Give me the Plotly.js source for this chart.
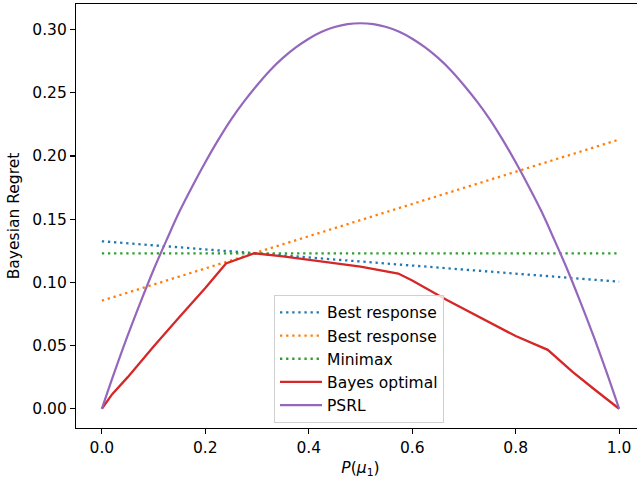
<!DOCTYPE html>
<html>
<head>
<meta charset="utf-8">
<script src="https://cdn.plot.ly/plotly-3.0.1.min.js"></script>
<style>
html, body { margin: 0; padding: 0; overflow: hidden; background: #fff; }
#chart { width: 660px; height: 480px; }
</style>
</head>
<body>
<div id="chart"></div>
<script>
// Data
const lineX = [0, 1];
const bestResponse1 = [0.1325, 0.1005];
const bestResponse2 = [0.0855, 0.2130];
const minimax = [0.1230, 0.1230];

const bayesX = [0, 0.02, 0.05, 0.1, 0.15, 0.2, 0.24, 0.295, 0.35, 0.4, 0.45, 0.5, 0.573, 0.6, 0.666, 0.7, 0.75, 0.8, 0.862, 0.91, 0.95, 1.0];
const bayesY = [0, 0.0115, 0.0250, 0.0493, 0.0725, 0.0955, 0.1150, 0.1230, 0.1205, 0.1180, 0.1155, 0.1125, 0.1070, 0.1015, 0.0862, 0.0790, 0.0678, 0.0575, 0.0466, 0.0292, 0.0160, 0];

const psrlX = [0, 0.025, 0.05, 0.075, 0.1, 0.125, 0.15, 0.175, 0.2, 0.225, 0.25, 0.275, 0.3, 0.325, 0.35, 0.375, 0.4, 0.425, 0.45, 0.475, 0.5,
               0.525, 0.55, 0.575, 0.6, 0.625, 0.65, 0.675, 0.7, 0.725, 0.75, 0.775, 0.8, 0.825, 0.85, 0.875, 0.9, 0.925, 0.95, 0.975, 1.0];
const psrlY = [0, 0.0297, 0.058, 0.0846, 0.110, 0.1334, 0.156, 0.1761, 0.195, 0.2127, 0.229, 0.2432, 0.256, 0.2677, 0.2776, 0.2859, 0.2928, 0.2983, 0.302, 0.3043, 0.305,
               0.3043, 0.302, 0.2983, 0.2928, 0.2859, 0.2776, 0.2677, 0.256, 0.2432, 0.229, 0.2127, 0.195, 0.1761, 0.156, 0.1334, 0.110, 0.0846, 0.058, 0.0297, 0];

const names = ["Best response", "Best response", "Minimax", "Bayes optimal", "PSRL"];
const colors = ["#1f77b4", "#ff7f0e", "#2ca02c", "#d62728", "#9467bd"];
const xTicks = [0, 0.2, 0.4, 0.6, 0.8, 1.0];
const xTickText = ["0.0", "0.2", "0.4", "0.6", "0.8", "1.0"];
const yTicks = [0, 0.05, 0.10, 0.15, 0.20, 0.25, 0.30];
const yTickText = ["0.00", "0.05", "0.10", "0.15", "0.20", "0.25", "0.30"];

const FONT = "DejaVu Sans, sans-serif";
const dotted = "2.3px,3.8px";

const traces = [
  {x: lineX, y: bestResponse1, name: names[0], mode: "lines", line: {color: colors[0], width: 2.3, dash: dotted}},
  {x: lineX, y: bestResponse2, name: names[1], mode: "lines", line: {color: colors[1], width: 2.3, dash: dotted}},
  {x: lineX, y: minimax, name: names[2], mode: "lines", line: {color: colors[2], width: 2.3, dash: dotted}},
  {x: bayesX, y: bayesY, name: names[3], mode: "lines", line: {color: colors[3], width: 2.3}},
  {x: psrlX, y: psrlY, name: names[4], mode: "lines", line: {color: colors[4], width: 2.2, shape: "spline", smoothing: 1}}
];

const axisCommon = {
  showgrid: false, zeroline: false, showline: true, linecolor: "#000", linewidth: 1.1,
  mirror: true, ticks: "outside", ticklen: 5, tickwidth: 1.1, tickcolor: "#000",
  tickfont: {family: FONT, size: 15.5, color: "#000"}
};

const layout = {
  width: 660, height: 480,
  margin: {l: 76, r: 15, t: 4, b: 52},
  paper_bgcolor: "#fff", plot_bgcolor: "#fff",
  font: {family: FONT, size: 15.5, color: "#000"},
  xaxis: Object.assign({}, axisCommon, {
    range: [-0.05, 1.05], tickvals: xTicks, ticktext: xTickText,
    title: {text: "<i>P</i>(<i>μ</i><sub>1</sub>)", font: {family: FONT, size: 15.5, color: "#000"}, standoff: 6}
  }),
  yaxis: Object.assign({}, axisCommon, {
    range: [-0.01525, 0.32025], tickvals: yTicks, ticktext: yTickText,
    title: {text: "Bayesian Regret", font: {family: FONT, size: 15.5, color: "#000"}, standoff: 8}
  }),
  showlegend: true,
  legend: {
    x: 0.348, y: 0.314, xanchor: "left", yanchor: "top",
    bgcolor: "rgba(255,255,255,0.8)", bordercolor: "#d0d0d0", borderwidth: 1,
    font: {family: FONT, size: 15.5, color: "#000"},
    itemwidth: 42,
    tracegroupgap: 0
  }
};

Plotly.newPlot("chart", traces, layout, {displayModeBar: false, staticPlot: true});
</script>
</body>
</html>
